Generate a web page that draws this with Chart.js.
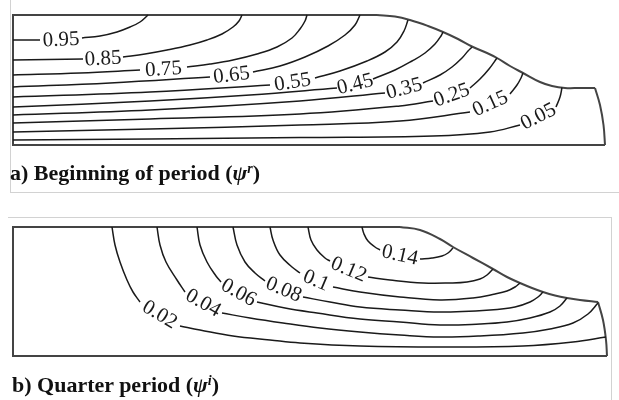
<!DOCTYPE html>
<html>
<head>
<meta charset="utf-8">
<script src="https://cdn.jsdelivr.net/npm/chart.js@4.4.1/dist/chart.umd.min.js"></script>
<style>
html, body { margin: 0; padding: 0; background: #fff; }
#wrap { position: relative; width: 619px; height: 400px; overflow: hidden; }
#grafico { position: absolute; left: 0; top: 0; }
.titulo { position: absolute; font-family: "Liberation Serif", "Times New Roman", serif; font-weight: bold; font-size: 22px; color: #111; white-space: nowrap; line-height: 1; }
.titulo sup { font-size: 14px; font-style: italic; vertical-align: 7px; }
.moldura { position: absolute; background: #d2d2d2; }
</style>
</head>
<body>
<div id="wrap">
  <canvas id="grafico" width="619" height="400"></canvas>
  <div class="moldura" style="left:10px;top:0;width:1px;height:192px"></div>
  <div class="moldura" style="left:10px;top:192px;width:609px;height:1px"></div>
  <div class="moldura" style="left:8px;top:217px;width:604px;height:1px"></div>
  <div class="moldura" style="left:611px;top:217px;width:1px;height:183px"></div>
  <div class="titulo" style="left:10px;top:162px">a) Beginning of period (<i>ψ</i><sup>r</sup>)</div>
  <div class="titulo" style="left:12px;top:374px">b) Quarter period (<i>ψ</i><sup>i</sup>)</div>
</div>
<script>
// Níveis das isolinhas
const niveisA = ['0.95', '0.85', '0.75', '0.65', '0.55', '0.45', '0.35', '0.25', '0.15', '0.05'];
const niveisB = ['0.02', '0.04', '0.06', '0.08', '0.1', '0.12', '0.14'];

// Isolinhas do painel a) — null marca o espaço onde vai o rótulo
const linhasA = [
    [[13,40],[40,40],null,[82,38],[100,36],[117,32],[130,27],[140,22],[148,15]],
    [[13,60],[83,59],null,[123,57],[145,54],[167,50],[190,45],[207,40],[222,34],[233,27],[239,21],[242,15]],
    [[13,75],[80,73],[140,70],null,[187,67],[210,64],[233,60],[257,54],[277,47],[292,38],[300,29],[305,21],[307,15]],
    [[13,87],[110,83],[210,77],null,[253,72],[280,66],[305,57],[328,46],[345,35],[355,25],[360,15]],
    [[13,97],[150,92],[270,85],null,[315,78],[340,71],[367,61],[385,52],[397,42],[404,31],[408,20]],
    [[13,107],[150,101],[250,95],[337,88],null,[373,79],[395,70],[412,61],[425,53],[435,44],[441,36],[443,32]],
    [[13,115],[150,110],[300,101],[385,93],null,[423,83],[440,75],[452,67],[462,58],[468,51],[472,47]],
    [[13,123],[150,119],[300,114],[400,106],[433,101],null,[470,88],[480,79],[489,69],[497,58]],
    [[13,132],[150,129],[300,125],[400,121],[470,112],null,[510,94],[517,85],[521,78],[523,73]],
    [[13,140],[150,139],[300,137.5],[433,136],[490,132],[520,125],null,[556,107],[560,97],[562,87.5]]
];

// Isolinhas do painel b)
const linhasB = [
    [[112,227],[115,245],[120,262],[127,280],[133,292],[140,302],null,[180,326],[200,330],[233,336],[270,340],[300,343],[360,346],[440,347],[523,346],[573,342],[606,337]],
    [[157,227],[160,245],[166,262],[177,280],[185,292],null,[222,313],[250,318],[283,323],[320,328],[360,332],[400,335],[440,337],[480,336],[523,333],[550,329],[573,323],[588,314],[598,303]],
    [[197,227],[200,245],[207,262],[216,276],[221,282],null,[257,302],[285,308],[317,313],[360,319],[400,322],[440,325],[480,324],[507,322],[530,318],[550,312],[560,306],[567,298]],
    [[233,227],[237,245],[245,262],[255,273],[265,281],null,[303,297],[330,302],[360,307],[400,310],[440,312],[490,310],[515,307],[530,302],[538,297],[543,292]],
    [[270,227],[273,240],[280,255],[292,267],[300,273],null,[333,287],[360,292],[400,297],[440,300],[473,298],[495,294],[507,291],[515,287],[520,283]],
    [[308,227],[311,240],[317,250],[325,258],[330,261],null,[368,277],[390,280],[423,283],[450,283],[467,282],[480,279],[487,275],[493,269]],
    [[362,227],[364,234],[368,241],[375,247],[380,250],null,[420,259],[432,258],[442,256],[448,253],[453,248]]
];

// Contorno do domínio a)
const bordaRetaA = [[377,15],[13,15],[13,145],[605,145]];
const bordaTopoA = [[377,15],[395,16.5],[410,20],[428,26],[443,32],[458,39],[473,47],[487,53],[497,58],[510,66],[523,73],[540,82],[552,86],[565,88],[580,88],[595,88]];
const bordaLadoA = [[595,88],[600,105],[603.5,125],[605,145]];

// Contorno do domínio b)
const bordaRetaB = [[400,227],[13,227],[13,356],[607,356]];
const bordaTopoB = [[400,227],[420,230],[440,239],[453,247],[473,258],[493,269],[507,277],[520,283],[532,288],[543,292],[555,295.5],[567,298],[580,300],[598,302]];
const bordaLadoB = [[598,302],[603,320],[606,340],[607,356]];

// Converte a lista de pares em pontos {x, y}; null vira uma quebra na linha
function paraPontos(lista) {
    let ultimoX = 0;
    return lista.map(p => {
        if (p === null) return { x: ultimoX, y: null };
        ultimoX = p[0];
        return { x: p[0], y: p[1] };
    });
}

function serieBorda(lista, curva) {
    return {
        label: 'borda',
        data: paraPontos(lista),
        borderColor: '#444',
        borderWidth: 2,
        tension: curva ? 0.4 : 0,
        pointRadius: 0,
        fill: false
    };
}

function serieNivel(lista, nivel) {
    return {
        label: nivel,
        nivel: true,
        data: paraPontos(lista),
        borderColor: '#1a1a1a',
        borderWidth: 1.5,
        tension: 0.4,
        pointRadius: 0,
        fill: false,
        spanGaps: false
    };
}

const series = [];
linhasA.forEach((l, i) => series.push(serieNivel(l, niveisA[i])));
linhasB.forEach((l, i) => series.push(serieNivel(l, niveisB[i])));
series.push(serieBorda(bordaRetaA, false), serieBorda(bordaTopoA, true), serieBorda(bordaLadoA, true));
series.push(serieBorda(bordaRetaB, false), serieBorda(bordaTopoB, true), serieBorda(bordaLadoB, true));

// Plugin que escreve o valor de cada isolinha no espaço deixado na linha
const rotulosNivel = {
    id: 'rotulosNivel',
    afterDatasetsDraw(chart) {
        const ctx = chart.ctx;
        const sx = chart.scales.x;
        const sy = chart.scales.y;
        chart.data.datasets.forEach(ds => {
            if (!ds.nivel) return;
            const i = ds.data.findIndex(p => p.y === null);
            const a = ds.data[i - 1];
            const b = ds.data[i + 1];
            const x1 = sx.getPixelForValue(a.x), y1 = sy.getPixelForValue(a.y);
            const x2 = sx.getPixelForValue(b.x), y2 = sy.getPixelForValue(b.y);
            ctx.save();
            ctx.translate((x1 + x2) / 2, (y1 + y2) / 2);
            ctx.rotate(Math.atan2(y2 - y1, x2 - x1));
            ctx.font = '21px "Liberation Serif", "Times New Roman", serif';
            ctx.fillStyle = '#1a1a1a';
            ctx.textAlign = 'center';
            ctx.textBaseline = 'middle';
            ctx.fillText(ds.label, 0, 1);
            ctx.restore();
        });
    }
};

new Chart(document.getElementById('grafico').getContext('2d'), {
    type: 'line',
    data: { datasets: series },
    options: {
        responsive: false,
        animation: false,
        events: [],
        layout: { padding: 0 },
        scales: {
            x: { type: 'linear', min: 0, max: 619, display: false },
            y: { type: 'linear', min: 0, max: 400, reverse: true, display: false }
        },
        plugins: {
            legend: { display: false },
            tooltip: { enabled: false }
        }
    },
    plugins: [rotulosNivel]
});
</script>
</body>
</html>
